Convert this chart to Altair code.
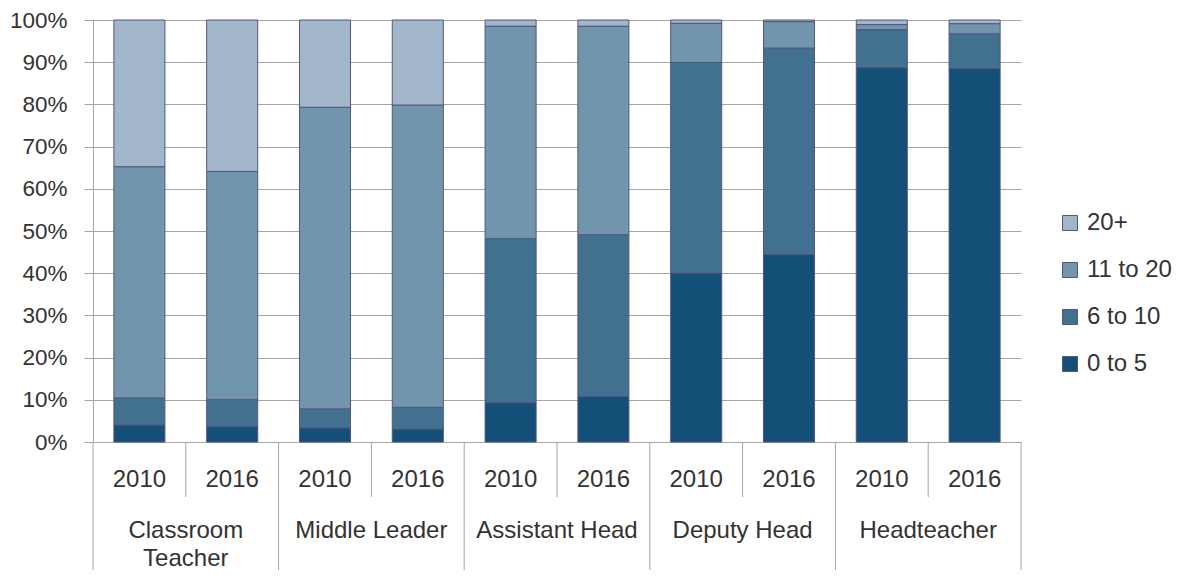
import altair as alt
import pandas as pd

groups = ["Classroom Teacher", "Middle Leader", "Assistant Head", "Deputy Head", "Headteacher"]
group_labels = ["Classroom\nTeacher", "Middle Leader", "Assistant Head", "Deputy Head", "Headteacher"]
years = ["2010", "2016"]
series = ["20+", "11 to 20", "6 to 10", "0 to 5"]
colors = ["#A1B7C9", "#7295AE", "#41718F", "#134F76"]

# per bar, in order CT2010, CT2016, ML2010, ML2016, AH2010, AH2016, DH2010, DH2016, HT2010, HT2016
v_0_5 = [4.0, 3.6, 3.3, 3.0, 9.3, 10.8, 40.0, 44.4, 88.7, 88.5]
v_6_10 = [6.4, 6.4, 4.5, 5.2, 38.9, 38.3, 49.9, 48.9, 9.0, 8.2]
v_11_20 = [54.8, 54.1, 71.5, 71.6, 50.3, 49.4, 9.3, 6.3, 1.2, 2.4]
v_20p = [34.8, 35.9, 20.7, 20.2, 1.5, 1.5, 0.8, 0.4, 1.1, 0.9]

W, H = 928, 422
STEP = W / 10
FONT = "Liberation Sans"
TXT = "#333333"
LINE = "#A6A6A6"

cats, cat_year = [], []
for g in groups:
    for y in years:
        cats.append(g + "|" + y)
        cat_year.append(y)

rows = []
vals = {"0 to 5": v_0_5, "6 to 10": v_6_10, "11 to 20": v_11_20, "20+": v_20p}
order = {"0 to 5": 0, "6 to 10": 1, "11 to 20": 2, "20+": 3}
for s in series:
    for i, c in enumerate(cats):
        rows.append({"cat": c, "series": s, "value": vals[s][i], "ord": order[s]})
df = pd.DataFrame(rows)

xscale = alt.Scale(domain=cats, paddingInner=0.45, paddingOuter=0.225)
xenc = alt.X("cat:N", scale=xscale, axis=None)

bars = alt.Chart(df).mark_bar(stroke="#55557F", strokeWidth=1).encode(
    x=xenc,
    y=alt.Y("value:Q", stack="zero",
            scale=alt.Scale(domain=[0, 100]),
            axis=alt.Axis(values=list(range(0, 101, 10)), labelExpr="datum.value + '%'",
                          title=None, grid=True, gridColor=LINE, domainColor=LINE,
                          tickColor=LINE, tickSize=9, labelFontSize=22.5, labelFont=FONT,
                          labelColor=TXT, labelPadding=17)),
    color=alt.Color("series:N", scale=alt.Scale(domain=series, range=colors),
                    legend=alt.Legend(title=None, orient="none", legendX=965, legendY=191,
                                      symbolType="square", symbolSize=225,
                                      symbolStrokeColor="#55557F", symbolStrokeWidth=1,
                                      labelFontSize=24, labelFont=FONT, labelColor=TXT,
                                      labelOffset=5, rowPadding=23, padding=0)),
    order=alt.Order("ord:Q", sort="ascending"),
)

ydf = pd.DataFrame({"cat": cats, "year": cat_year})
year_text = alt.Chart(ydf).mark_text(fontSize=24, font=FONT, color=TXT, baseline="middle").encode(
    x=xenc, y=alt.value(H + 38), text="year:N")

first_cats = [g + "|2010" for g in groups]
gdf = pd.DataFrame({"cat": first_cats, "label": group_labels})
group_text = alt.Chart(gdf).mark_text(fontSize=24, font=FONT, color=TXT, baseline="top",
                                      lineBreak="\n", lineHeight=28, xOffset=STEP / 2).encode(
    x=xenc, y=alt.value(H + 77), text="label:N")

year_sep = alt.Chart(pd.DataFrame({"cat": [g + "|2016" for g in groups]})).mark_rule(
    color=LINE, strokeWidth=1, xOffset=-STEP / 2).encode(
    x=xenc, y=alt.value(H), y2=alt.value(H + 55))

group_sep = alt.Chart(pd.DataFrame({"cat": first_cats})).mark_rule(
    color=LINE, strokeWidth=1, xOffset=-STEP / 2).encode(
    x=xenc, y=alt.value(H), y2=alt.value(H + 140))

end_sep = alt.Chart(pd.DataFrame({"cat": [cats[-1]]})).mark_rule(
    color=LINE, strokeWidth=1, xOffset=STEP / 2).encode(
    x=xenc, y=alt.value(H), y2=alt.value(H + 140))

chart = alt.layer(bars, year_sep, group_sep, end_sep, year_text, group_text).properties(
    width=W, height=H,
    autosize=alt.AutoSizeParams(type="none"),
    padding={"left": 85, "top": 12, "right": 154, "bottom": 128},
).configure_view(stroke=None)

chart.save("out.html", embed_options={"renderer": "svg", "actions": False})
